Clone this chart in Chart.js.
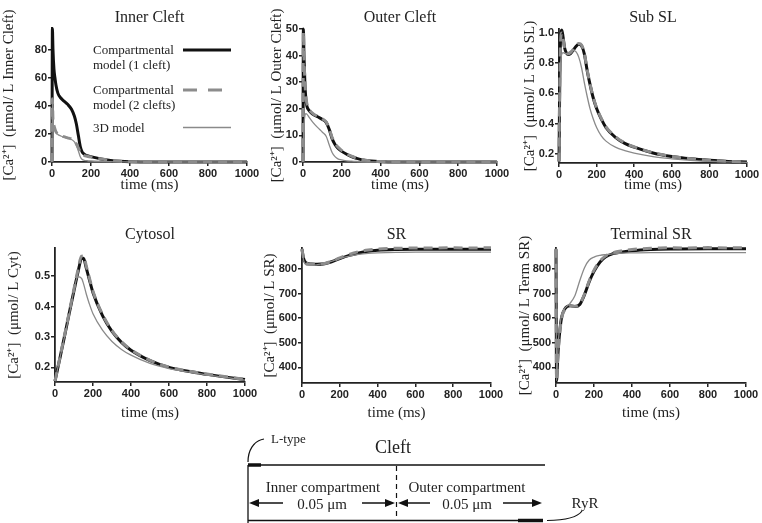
<!DOCTYPE html>
<html>
<head>
<meta charset="utf-8">
<script src="https://cdn.jsdelivr.net/npm/chart.js@4.4.0/dist/chart.umd.min.js"></script>
<style>
html, body { margin: 0; padding: 0; background: #fff; }
#page { position: relative; width: 762px; height: 523px; overflow: hidden; }
#page canvas { position: absolute; }
.legend { position: absolute; font-family: "Liberation Serif", serif; font-size: 13px; line-height: 15px; color: #222; white-space: nowrap; }
#overlay { position: absolute; left: 0; top: 0; }
</style>
</head>
<body>
<div id="page">
  <canvas id="cInner" width="265" height="195" style="left:0;top:0"></canvas>
  <canvas id="cOuter" width="262" height="195" style="left:250px;top:0"></canvas>
  <canvas id="cSub" width="262" height="195" style="left:500px;top:0"></canvas>
  <canvas id="cCyt" width="262" height="225" style="left:0;top:200px"></canvas>
  <canvas id="cSR" width="262" height="225" style="left:250px;top:200px"></canvas>
  <canvas id="cTSR" width="262" height="225" style="left:500px;top:200px"></canvas>

  <div class="legend" style="left:93px;top:42px">Compartmental<br>model (1 cleft)</div>
  <div class="legend" style="left:93px;top:82px">Compartmental<br>model (2 clefts)</div>
  <div class="legend" style="left:93px;top:120px">3D model</div>

  <svg id="overlay" width="762" height="523" viewBox="0 0 762 523">
    <!-- legend samples -->
    <line x1="183" y1="50" x2="231" y2="50" stroke="#111" stroke-width="3"/>
    <line x1="183" y1="90" x2="231" y2="90" stroke="#8c8c8c" stroke-width="3" stroke-dasharray="14 11"/>
    <line x1="183" y1="127.5" x2="231" y2="127.5" stroke="#8a8a8a" stroke-width="1.3"/>

    <!-- cleft sketch -->
    <g stroke="#111" fill="none">
      <line x1="248" y1="465" x2="545" y2="465" stroke-width="1.3"/>
      <line x1="248" y1="465" x2="261" y2="465" stroke-width="3.5"/>
      <line x1="248" y1="465" x2="248" y2="523" stroke-width="1.3"/>
      <line x1="248" y1="520.5" x2="520" y2="520.5" stroke-width="1.3"/>
      <line x1="518" y1="520.5" x2="543" y2="520.5" stroke-width="3.5"/>
      <line x1="396.5" y1="466" x2="396.5" y2="521" stroke-width="1.2" stroke-dasharray="5 4"/>
      <path d="M248,462 C248,451 253,441 264,439" stroke-width="1.2"/>
      <path d="M547,520.5 Q576,520 582,511" stroke-width="1.2"/>
      <line x1="283" y1="503" x2="256" y2="503" stroke-width="1.5"/>
      <line x1="362" y1="503" x2="388" y2="503" stroke-width="1.5"/>
      <line x1="430" y1="503" x2="405" y2="503" stroke-width="1.5"/>
      <line x1="503" y1="503" x2="535" y2="503" stroke-width="1.5"/>
    </g>
    <g fill="#111">
      <polygon points="249,503 259,499 259,507"/>
      <polygon points="395,503 385,499 385,507"/>
      <polygon points="398,503 408,499 408,507"/>
      <polygon points="542,503 532,499 532,507"/>
    </g>
    <g font-family="Liberation Serif, serif" fill="#222" dominant-baseline="central">
      <text x="393" y="447" font-size="18" text-anchor="middle">Cleft</text>
      <text x="271" y="438" font-size="13">L-type</text>
      <text x="323" y="487" font-size="15" text-anchor="middle">Inner compartment</text>
      <text x="322" y="504" font-size="15" text-anchor="middle">0.05 μm</text>
      <text x="467" y="487" font-size="15" text-anchor="middle">Outer compartment</text>
      <text x="467" y="504" font-size="15" text-anchor="middle">0.05 μm</text>
      <text x="585" y="503" font-size="15" text-anchor="middle">RyR</text>
    </g>
  </svg>
</div>

<script>
// time in ms, concentrations in umol/L
// One = compartmental model (1 cleft), Two = compartmental model (2 clefts), ThreeD = 3D model

const innerTime = [0, 2, 5, 10, 15, 20, 30, 45, 60, 80, 100, 115, 125, 135, 145, 155, 165, 180, 200, 250, 300, 350, 400, 500, 600, 800, 1000];
const innerOne = [0, 95, 80, 66, 60, 55, 49, 45.5, 43.5, 41, 37.5, 32.5, 27, 19, 11, 7, 5.6, 4.5, 3.8, 2.2, 1.1, 0.5, 0.2, 0.05, 0, 0, 0];
const innerTwo = [0, 45, 30, 26, 23.5, 21.6, 20, 18.8, 18, 17.2, 16.3, 14.8, 12.8, 10, 7.2, 5.3, 4.6, 4.1, 3.5, 2.2, 1.1, 0.5, 0.2, 0.05, 0, 0, 0];
const innerThreeD = [0, 44, 29, 25, 23, 21.2, 19.6, 18.5, 17.7, 16.9, 16, 14.3, 12, 8, 3.8, 1.8, 1.2, 0.9, 0.7, 0.4, 0.2, 0.1, 0, 0, 0, 0, 0];

const outerTime = [0, 2, 5, 10, 15, 20, 30, 50, 75, 100, 120, 135, 150, 165, 180, 200, 225, 250, 275, 300, 350, 400, 500, 1000];
const outerOne = [0, 50, 40, 29, 23.5, 21, 19.5, 18, 17, 16, 14.8, 12.3, 8.8, 6.6, 5.2, 4.0, 2.9, 2.0, 1.4, 0.9, 0.35, 0.12, 0.03, 0];
const outerTwo = [0, 49, 40, 30, 24.5, 22, 20, 18.3, 17.2, 16.2, 15, 12.6, 9.2, 7, 5.6, 4.3, 3.1, 2.2, 1.5, 1.0, 0.4, 0.15, 0.03, 0];
const outerThreeD = [0, 8, 14, 17.5, 18.2, 18, 17, 15, 13, 11.2, 9.6, 6.5, 3.6, 2, 1.2, 0.8, 0.4, 0.3, 0.2, 0.1, 0, 0, 0, 0];

const subTime = [0, 3, 8, 15, 22, 30, 40, 50, 60, 75, 90, 105, 120, 135, 150, 165, 180, 200, 225, 250, 300, 350, 400, 500, 600, 700, 800, 900, 1000];
const subOne = [0.15, 0.55, 0.95, 1.02, 0.97, 0.9, 0.865, 0.857, 0.862, 0.885, 0.91, 0.925, 0.915, 0.86, 0.75, 0.66, 0.58, 0.5, 0.43, 0.375, 0.31, 0.27, 0.245, 0.207, 0.183, 0.168, 0.158, 0.151, 0.147];
const subTwo = [0.15, 0.55, 0.93, 1.0, 0.96, 0.9, 0.87, 0.862, 0.868, 0.89, 0.915, 0.93, 0.92, 0.865, 0.755, 0.665, 0.585, 0.505, 0.435, 0.38, 0.315, 0.273, 0.247, 0.208, 0.184, 0.169, 0.159, 0.152, 0.148];
const subThreeD = [0.15, 0.45, 0.78, 0.86, 0.87, 0.865, 0.865, 0.87, 0.878, 0.885, 0.876, 0.84, 0.77, 0.67, 0.58, 0.5, 0.44, 0.375, 0.32, 0.285, 0.245, 0.222, 0.205, 0.182, 0.168, 0.158, 0.152, 0.148, 0.145];

const cytTime = [0, 25, 50, 75, 100, 120, 140, 150, 165, 180, 200, 250, 300, 350, 400, 500, 600, 700, 800, 900, 1000];
const cytOne = [0.155, 0.228, 0.302, 0.378, 0.452, 0.51, 0.557, 0.558, 0.525, 0.49, 0.445, 0.37, 0.318, 0.282, 0.256, 0.222, 0.2, 0.187, 0.177, 0.168, 0.16];
const cytTwo = [0.155, 0.23, 0.305, 0.382, 0.458, 0.518, 0.565, 0.566, 0.532, 0.496, 0.45, 0.374, 0.321, 0.284, 0.258, 0.223, 0.201, 0.188, 0.178, 0.169, 0.161];
const cytThreeD = [0.155, 0.228, 0.3, 0.372, 0.455, 0.498, 0.492, 0.475, 0.44, 0.41, 0.376, 0.322, 0.285, 0.259, 0.24, 0.213, 0.196, 0.185, 0.175, 0.167, 0.158];

const srTime = [0, 5, 10, 20, 30, 50, 80, 120, 160, 200, 250, 300, 350, 400, 500, 600, 800, 1000];
const srOne = [880, 855, 838, 826, 822, 820, 819, 821, 830, 842, 855, 865, 872, 876, 879, 880, 880, 880];
const srTwo = [882, 856, 838, 826, 821, 820, 819, 822, 832, 845, 859, 870, 877, 881, 884, 885, 886, 886];
const srThreeD = [878, 850, 830, 818, 815, 815, 817, 822, 832, 843, 852, 859, 863, 865, 867, 868, 868, 868];

const tsrTime = [0, 3, 8, 12, 21, 30, 47, 74, 100, 125, 150, 175, 200, 232, 260, 300, 350, 400, 500, 600, 800, 1000];
const tsrOne = [880, 345, 420, 475, 555, 605, 638, 650, 647, 655, 695, 748, 790, 828, 848, 862, 869, 874, 879, 881, 882, 882];
const tsrTwo = [882, 345, 415, 470, 550, 600, 636, 650, 648, 657, 698, 752, 795, 832, 852, 866, 874, 879, 884, 886, 887, 887];
const tsrThreeD = [878, 345, 430, 500, 570, 615, 640, 660, 692, 752, 805, 836, 848, 855, 858, 861, 864, 865, 866, 866, 866, 866];

const seriesLabels = ['Compartmental model (1 cleft)', 'Compartmental model (2 clefts)', '3D model'];

const SERIF = '"Liberation Serif", "Times New Roman", serif';
const SANS = '"Liberation Sans", Arial, sans-serif';
const INK = '#222';

function points(xs, ys) {
    return xs.map((x, i) => ({ x: x, y: ys[i] }));
}

// box = canvas origin on page, plot = [left, top, right, bottom] of the axes on page
function makePanel(p) {
    const canvas = document.getElementById(p.id);
    const w = canvas.width, h = canvas.height;
    const left = p.plot[0] - p.box[0];
    const top = p.plot[1] - p.box[1];
    const right = p.plot[2] - p.box[0];
    const bottom = p.plot[3] - p.box[1];

    const titleSize = 16, titleLH = titleSize * 1.2;
    const tPadTop = p.titleY - p.box[1] - titleLH / 2;
    const tPadBottom = top - tPadTop - titleLH;
    const axisSize = 15, axisLH = axisSize * 1.2;
    const yTitlePad = p.yTitleX - p.box[0] - axisLH / 2;
    const xTitlePad = (h - (p.xTitleY - p.box[1])) - axisLH / 2;

    const common = {
        pointRadius: 0,
        fill: false,
        cubicInterpolationMode: 'monotone',
        clip: 4
    };

    new Chart(canvas.getContext('2d'), {
        type: 'line',
        data: {
            datasets: [
                Object.assign({
                    label: seriesLabels[0],
                    data: points(p.time, p.one),
                    borderColor: '#111',
                    borderWidth: 3,
                    order: 3
                }, common),
                Object.assign({
                    label: seriesLabels[2],
                    data: points(p.time, p.threeD),
                    borderColor: '#8a8a8a',
                    borderWidth: 1.3,
                    order: 2
                }, common),
                Object.assign({
                    label: seriesLabels[1],
                    data: points(p.time, p.two),
                    borderColor: '#8c8c8c',
                    borderWidth: 3,
                    borderDash: [9, 6],
                    order: 1
                }, common)
            ]
        },
        options: {
            responsive: false,
            animation: false,
            devicePixelRatio: 1,
            layout: { padding: { left: 0, top: 0, right: w - right, bottom: 0 } },
            plugins: {
                legend: { display: false },
                tooltip: { enabled: false },
                title: {
                    display: true,
                    text: p.title,
                    fullSize: false,
                    color: INK,
                    font: { family: SERIF, size: titleSize, weight: 'normal', lineHeight: 1.2 },
                    padding: { top: tPadTop, bottom: tPadBottom }
                }
            },
            scales: {
                x: {
                    type: 'linear',
                    min: 0,
                    max: 1000,
                    ticks: {
                        stepSize: 200,
                        maxRotation: 0,
                        padding: 1.5,
                        color: INK,
                        font: { family: SANS, size: 11, weight: 'bold' },
                        callback: (v) => String(v)
                    },
                    grid: { drawOnChartArea: false, tickLength: 4, color: INK, lineWidth: 1.5 },
                    border: { color: INK, width: 1.8 },
                    title: {
                        display: true,
                        text: 'time (ms)',
                        color: INK,
                        font: { family: SERIF, size: axisSize, lineHeight: 1.2 },
                        padding: { top: 0, bottom: xTitlePad }
                    },
                    afterFit: (s) => {
                        s.height = h - bottom;
                        s.paddingLeft = 0;
                        s.paddingRight = 0;
                    }
                },
                y: {
                    type: 'linear',
                    min: p.yMin,
                    max: p.yMax,
                    ticks: {
                        stepSize: p.yStep,
                        includeBounds: false,
                        padding: 1,
                        color: INK,
                        font: { family: SANS, size: 11, weight: 'bold' },
                        callback: (v) => v.toFixed(p.decimals)
                    },
                    grid: { drawOnChartArea: false, tickLength: 4, color: INK, lineWidth: 1.5 },
                    border: { color: INK, width: 1.8 },
                    title: {
                        display: true,
                        text: p.yTitle,
                        color: INK,
                        font: { family: SERIF, size: axisSize, lineHeight: 1.2 },
                        padding: { top: yTitlePad, bottom: 0 }
                    },
                    afterFit: (s) => {
                        s.width = left;
                        s.paddingTop = 0;
                        s.paddingBottom = 0;
                    }
                }
            }
        }
    });
}

const panels = [
    { id: 'cInner', box: [0, 0], plot: [52, 28, 247, 162], titleY: 18, yTitleX: 9, xTitleY: 185,
      title: 'Inner Cleft', yTitle: '[Ca²⁺]  (μmol/ L Inner Cleft)', yMin: 0, yMax: 95.3, yStep: 20, decimals: 0,
      time: innerTime, one: innerOne, two: innerTwo, threeD: innerThreeD },
    { id: 'cOuter', box: [250, 0], plot: [303, 29, 497, 162], titleY: 18, yTitleX: 277, xTitleY: 185,
      title: 'Outer Cleft', yTitle: '[Ca²⁺]  (μmol/ L Outer Cleft)', yMin: 0, yMax: 50, yStep: 10, decimals: 0,
      time: outerTime, one: outerOne, two: outerTwo, threeD: outerThreeD },
    { id: 'cSub', box: [500, 0], plot: [559, 29, 747, 163], titleY: 18, yTitleX: 530, xTitleY: 185,
      title: 'Sub SL', yTitle: '[Ca²⁺]  (μmol/ L Sub SL)', yMin: 0.1405, yMax: 1.026, yStep: 0.2, decimals: 1,
      time: subTime, one: subOne, two: subTwo, threeD: subThreeD },
    { id: 'cCyt', box: [0, 200], plot: [55, 248, 245, 382], titleY: 235, yTitleX: 14, xTitleY: 413,
      title: 'Cytosol', yTitle: '[Ca²⁺]  (μmol/ L Cyt)', yMin: 0.152, yMax: 0.592, yStep: 0.1, decimals: 1,
      time: cytTime, one: cytOne, two: cytTwo, threeD: cytThreeD },
    { id: 'cSR', box: [250, 200], plot: [302, 248, 491, 383], titleY: 235, yTitleX: 270, xTitleY: 413,
      title: 'SR', yTitle: '[Ca²⁺]  (μmol/ L SR)', yMin: 336, yMax: 885, yStep: 100, decimals: 0,
      time: srTime, one: srOne, two: srTwo, threeD: srThreeD },
    { id: 'cTSR', box: [500, 200], plot: [556, 248, 746, 383], titleY: 235, yTitleX: 525, xTitleY: 413,
      title: 'Terminal SR', yTitle: '[Ca²⁺]  (μmol/ L Term SR)', yMin: 336, yMax: 885, yStep: 100, decimals: 0,
      time: tsrTime, one: tsrOne, two: tsrTwo, threeD: tsrThreeD }
];

panels.forEach(makePanel);
</script>
</body>
</html>
